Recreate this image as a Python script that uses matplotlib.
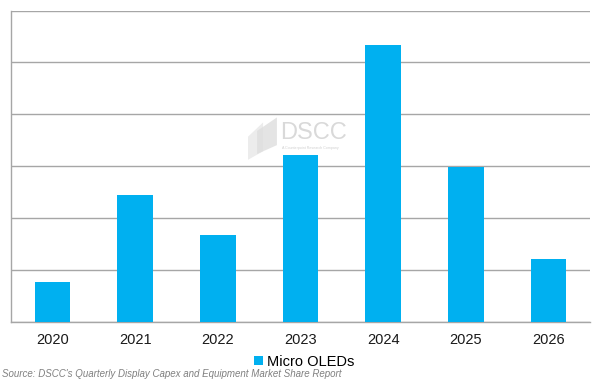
import matplotlib.pyplot as plt
from matplotlib.patches import Polygon

# dati (unità = intervalli della griglia)
anni = ['2020', '2021', '2022', '2023', '2024', '2025', '2026']
micro_oled = [0.77, 2.45, 1.67, 3.21, 5.33, 2.99, 1.20]

blu = '#00B0F0'
grigio = '#A6A6A6'

plt.rcParams['font.family'] = ['Liberation Sans', 'DejaVu Sans']

fig = plt.figure(figsize=(6.02, 3.85), dpi=100)
ax = fig.add_axes([0.0183, 0.1644, 0.9617, 0.8083])

x = range(len(anni))
ax.bar(x, micro_oled, width=0.43, color=blu, zorder=3, label='Micro OLEDs')

ax.set_xlim(-0.5, len(anni) - 0.5)
ax.set_ylim(0, 6)
ax.set_yticks(range(0, 7))
ax.set_yticklabels([])
ax.set_xticks(list(x))
ax.set_xticklabels(anni, fontsize=10.5, color='#1a1a1a')
ax.tick_params(length=0, pad=8)
ax.grid(axis='y', color=grigio, linewidth=1.0, zorder=0)

for lato in ['top', 'right']:
    ax.spines[lato].set_visible(False)
for lato in ['left', 'bottom']:
    ax.spines[lato].set_color(grigio)
    ax.spines[lato].set_linewidth(1.0)

# watermark DSCC (semitrasparente sopra la griglia, sotto le barre)
ax.text(0.465, 0.655, 'DSCC', fontsize=17, color='#d9d9d9', ha='left', va='center',
        transform=fig.transFigure, zorder=1)
ax.text(0.469, 0.616, 'A Counterpoint Research Company', fontsize=2.6, color='#d0d0d0',
        ha='left', va='center', transform=fig.transFigure, zorder=1)
ax.add_patch(Polygon([[0.412, 0.645], [0.437, 0.682], [0.437, 0.607], [0.412, 0.585]],
                     closed=True, transform=fig.transFigure, facecolor='#ececec',
                     edgecolor='none', zorder=1, clip_on=False))
ax.add_patch(Polygon([[0.427, 0.66], [0.46, 0.695], [0.46, 0.623], [0.427, 0.6]],
                     closed=True, transform=fig.transFigure, facecolor='#dedede',
                     edgecolor='none', alpha=0.8, zorder=1, clip_on=False))

# legenda
fig.legend(loc='center', bbox_to_anchor=(0.505, 0.06), frameon=False, fontsize=10.5,
           handlelength=0.6, handleheight=0.6, handletextpad=0.3)

fig.text(0.004, 0.028, "Source: DSCC's Quarterly Display Capex and Equipment Market Share Report",
         fontsize=7, style='italic', color='#808080', ha='left', va='center')

fig.savefig('out.png', dpi=100)
